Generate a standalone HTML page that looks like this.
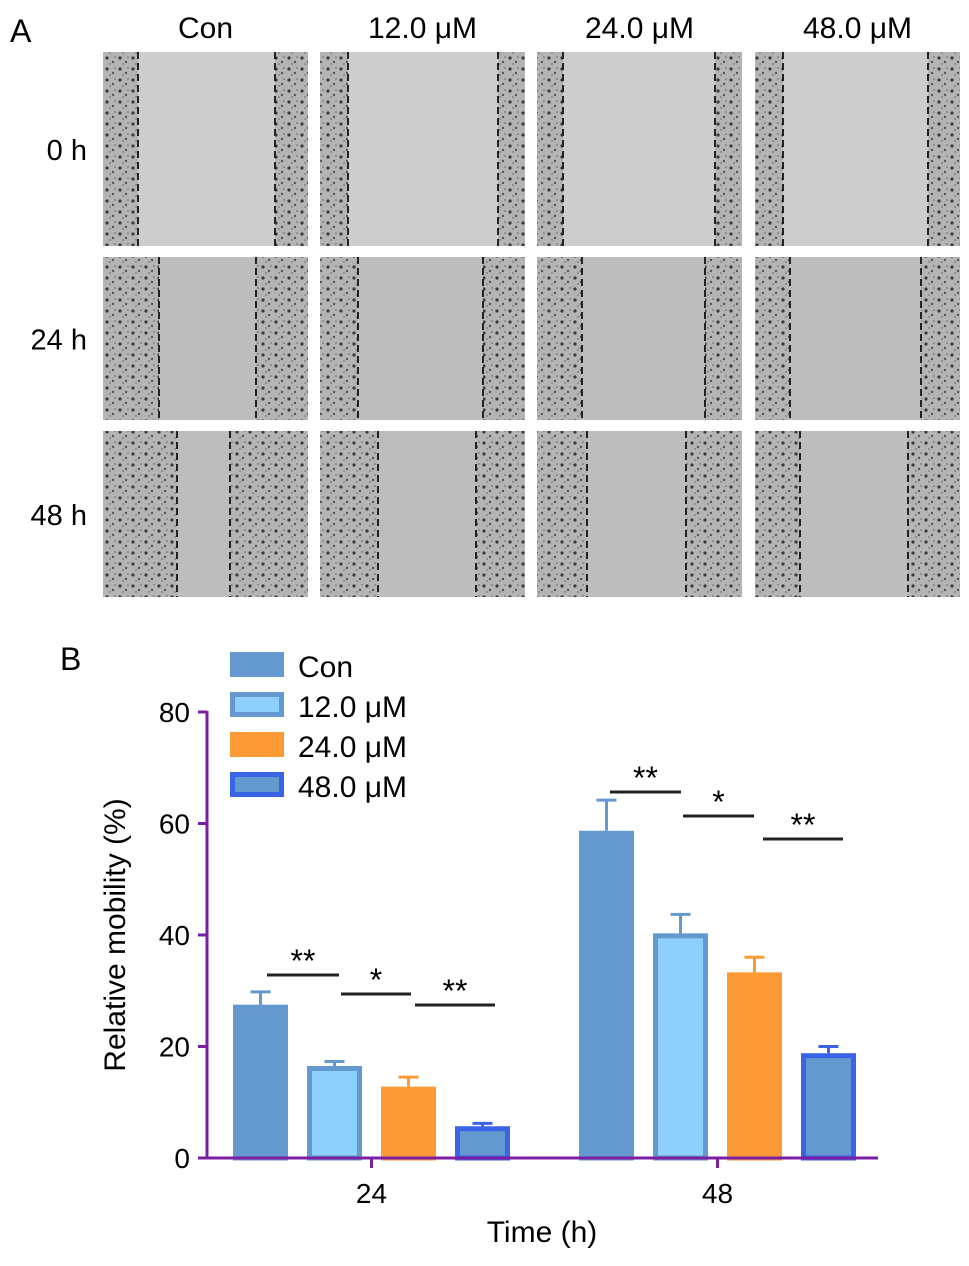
<!DOCTYPE html>
<html><head><meta charset="utf-8"><style>
body{margin:0;background:#fff;font-family:"Liberation Sans",Arial,sans-serif;}
svg text{font-family:"Liberation Sans",Arial,sans-serif;}
</style></head><body>
<svg id="fig" width="969" height="1261" xmlns="http://www.w3.org/2000/svg">
<defs>
<pattern id="cells" width="13" height="11" patternUnits="userSpaceOnUse">
<rect width="13" height="11" fill="#b4b4b4"/>
<circle cx="3" cy="3" r="1.6" fill="#3a3a3a"/>
<circle cx="9" cy="7" r="1.2" fill="#555"/>
<circle cx="6" cy="9" r="0.9" fill="#777"/>
<circle cx="11" cy="2" r="0.8" fill="#666"/>
</pattern>
</defs>
<text x="10" y="42" font-size="32">A</text>
<text x="60" y="670" font-size="32">B</text>
<g id="panelA"></g>
<g id="chart"></g>
</svg>
<script>
const NS="http://www.w3.org/2000/svg";
function mk(p,t,a){const e=document.createElementNS(NS,t);for(const k in a)e.setAttribute(k,a[k]);p.appendChild(e);return e;}
const A=document.getElementById('panelA');
const colX=[103,320,537,755], colW=205;
const rowY=[52,257,431], rowH=[194,163,166];
const colLabels=["Con","12.0 μM","24.0 μM","48.0 μM"];
const rowLabels=["0 h","24 h","48 h"];
const dashes=[[[138,275],[348,498],[563,715],[783,928]],[[159,256],[358,483],[582,705],[790,921]],[[177,230],[378,476],[587,686],[800,908]]];
colLabels.forEach((l,i)=>{const t=mk(A,'text',{x:colX[i]+colW/2,y:38,'font-size':30,'text-anchor':'middle'});t.textContent=l;

});
rowLabels.forEach((l,r)=>{const t=mk(A,'text',{x:87,y:rowY[r]+rowH[r]/2+11,'font-size':29,'text-anchor':'end'});t.textContent=l;


colX.forEach((x,c)=>{const bg=r==0?'#cdcdcd':'#bdbdbd';
const im=mk(A,'rect',{x:x,y:rowY[r],width:colW,height:rowH[r],fill:bg});


const [d1,d2]=dashes[r][c];
mk(A,'rect',{x:x,y:rowY[r],width:d1-x,height:rowH[r],fill:'url(#cells)'});
mk(A,'rect',{x:d2,y:rowY[r],width:x+colW-d2,height:rowH[r],fill:'url(#cells)'});
[d1,d2].forEach(d=>mk(A,'line',{x1:d,x2:d,y1:rowY[r],y2:rowY[r]+rowH[r],stroke:'#222','stroke-width':2,'stroke-dasharray':'7,4'}));
});});
const categories=["24","48"];
const seriesNames=["Con","12.0 μM","24.0 μM","48.0 μM"];
const means24=[27.5,16.5,12.8,5.7];
const err24=[2.3,0.8,1.7,0.5];
const means48=[58.7,40.3,33.3,18.8];
const err48=[5.5,3.4,2.7,1.2];
const yTicks=[0,20,40,60,80];
const C=document.getElementById('chart');
const y0=1158,yTop=712,xL=207,xR=878;
const ys=v=>y0-(v/80)*(y0-yTop);
const groupStart=[233,579], barW=55, step=74;
const fills=['#6499cf','#8dd0fb','#fe9a35','#6499cf'];
const strokes=['#6499cf','#6499cf','#fe9a35','#3a64e6'];
const allM=[means24,means48], allE=[err24,err48];
allM.forEach((ms,g)=>{ms.forEach((v,i)=>{const x=groupStart[g]+i*step;
const e=allE[g][i];
const el=mk(C,'line',{x1:x+barW/2,x2:x+barW/2,y1:ys(v),y2:ys(v+e),stroke:strokes[i],'stroke-width':3});


mk(C,'line',{x1:x+barW/2-10,x2:x+barW/2+10,y1:ys(v+e),y2:ys(v+e),stroke:strokes[i],'stroke-width':3});
const b=mk(C,'rect',{x:x+2.5,y:ys(v)+2.5,width:barW-5,height:ys(0)-ys(v)-2.5,fill:fills[i],stroke:strokes[i],'stroke-width':5});

});});
const sig=[[[267,339,975,"**"],[341,411,994,"*"],[415,495,1005,"**"]],[[610,681,792,"**"],[683,754,816,"*"],[763,843,839,"**"]]];
sig.forEach(gr=>gr.forEach(([a,b,y,s])=>{mk(C,'line',{x1:a,x2:b,y1:y,y2:y,stroke:'#222','stroke-width':3});
const t=mk(C,'text',{x:(a+b)/2,y:y-3,'font-size':32,'text-anchor':'middle'});t.textContent=s;

}));
const ax=mk(C,'line',{x1:xL,x2:xL,y1:yTop-1,y2:y0+1,stroke:'#7b1fa2','stroke-width':3});


const bx=mk(C,'line',{x1:xL-1,x2:xR,y1:y0,y2:y0,stroke:'#7b1fa2','stroke-width':3});


yTicks.forEach(v=>{mk(C,'line',{x1:xL-9,x2:xL,y1:ys(v),y2:ys(v),stroke:'#7b1fa2','stroke-width':3});
const t=mk(C,'text',{x:xL-17,y:ys(v)+10,'font-size':28,'text-anchor':'end'});t.textContent=v;

});
categories.forEach((c,g)=>{const cx=groupStart[g]+(3*step+barW)/2;
mk(C,'line',{x1:cx,x2:cx,y1:y0,y2:y0+10,stroke:'#7b1fa2','stroke-width':3});
const t=mk(C,'text',{x:cx,y:y0+45,'font-size':28,'text-anchor':'middle'});t.textContent=c;

});
const xt=mk(C,'text',{x:542,y:1242,'font-size':30,'text-anchor':'middle'});xt.textContent="Time (h)";


const yt=mk(C,'text',{x:0,y:0,'font-size':30,'text-anchor':'middle',transform:'translate(125,935) rotate(-90)'});yt.textContent="Relative mobility (%)";


seriesNames.forEach((n,i)=>{const y=652+i*40;
const r=mk(C,'rect',{x:232.5,y:y+2.5,width:49,height:20,fill:fills[i],stroke:strokes[i],'stroke-width':5});


const t=mk(C,'text',{x:298,y:y+25,'font-size':30});t.textContent=n;

});
</script>
</body></html>
